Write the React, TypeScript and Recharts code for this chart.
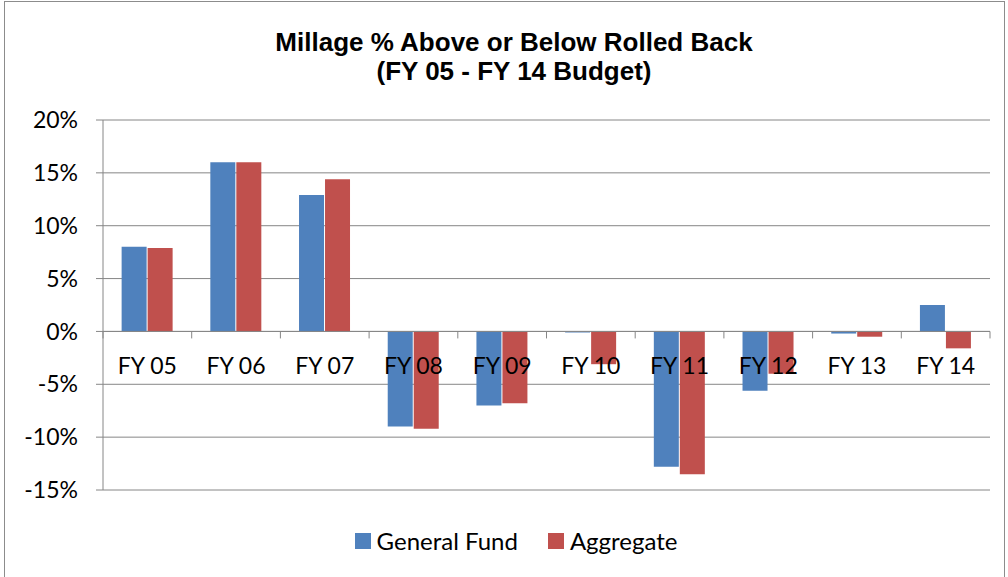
import React from 'react'
import { BarChart, Bar, XAxis, YAxis, CartesianGrid, ReferenceLine } from 'recharts'

const categories = ['FY 05', 'FY 06', 'FY 07', 'FY 08', 'FY 09', 'FY 10', 'FY 11', 'FY 12', 'FY 13', 'FY 14']
const generalFund = [8.0, 16.0, 12.9, -9.0, -7.0, -0.1, -12.8, -5.6, -0.2, 2.5]
const aggregate = [7.9, 16.0, 14.4, -9.2, -6.8, -3.1, -13.5, -4.0, -0.5, -1.6]
const yTicks = [-15, -10, -5, 0, 5, 10, 15, 20]

const series = [
  { key: 'general', name: 'General Fund', color: '#4F81BD' },
  { key: 'aggregate', name: 'Aggregate', color: '#C0504D' },
]

const data = categories.map((fy, i) => ({ fy, general: generalFund[i], aggregate: aggregate[i] }))

const W = 1008
const H = 577
const X_AXIS_H = 1
const M = { top: 120, right: 18, bottom: 87 - X_AXIS_H, left: 0 }
const Y_AXIS_W = 103
const PLOT_H = H - M.top - M.bottom - X_AXIS_H
const PLOT_W = W - M.left - M.right - Y_AXIS_W
const Y_MIN = -15
const Y_MAX = 20
const ZERO_Y = M.top + (PLOT_H * Y_MAX) / (Y_MAX - Y_MIN)
const BAND = PLOT_W / categories.length
const FONT = 'Lato, "Open Sans", sans-serif'
const AXIS_GRAY = '#868686'

function CategoryTick(props: any) {
  const { x, payload, index } = props
  const left = x - BAND / 2
  return (
    <g>
      <line x1={left} x2={left} y1={ZERO_Y} y2={ZERO_Y + 7} stroke={AXIS_GRAY} />
      {index === categories.length - 1 && (
        <line x1={x + BAND / 2} x2={x + BAND / 2} y1={ZERO_Y} y2={ZERO_Y + 7} stroke={AXIS_GRAY} />
      )}
      <text x={x} y={ZERO_Y + 35} dy="0.35em" textAnchor="middle" fontSize={23} fontFamily={FONT} fill="#000">
        {payload.value}
      </text>
    </g>
  )
}

export default function App() {
  return (
    <div style={{ position: 'absolute', left: 0, top: 0, width: W, height: H, overflow: 'hidden', background: '#fff' }}>
      <div
        style={{
          position: 'absolute', left: 4, top: 1, width: 1001, height: H + 10,
          border: '1px solid #8c8c8c', boxSizing: 'border-box',
        }}
      />
      <div
        style={{
          position: 'absolute', left: 0, top: 28, width: 1028, textAlign: 'center',
          fontFamily: '"Liberation Sans", Arial, sans-serif', fontWeight: 'bold', fontSize: 26, lineHeight: '29px',
          color: '#000',
        }}
      >
        Millage % Above or Below Rolled Back
        <br />
        (FY 05 - FY 14 Budget)
      </div>
      <div style={{ position: 'absolute', left: 0, top: 0 }}>
        <BarChart width={W} height={H} data={data} margin={M} barGap={1} barCategoryGap="21%">
          <CartesianGrid vertical={false} stroke={AXIS_GRAY} />
          <YAxis
            width={Y_AXIS_W}
            domain={[Y_MIN, Y_MAX]}
            ticks={yTicks}
            interval={0}
            tickFormatter={(v: number) => `${v}%`}
            tickSize={7}
            tickMargin={18}
            axisLine={{ stroke: AXIS_GRAY }}
            tickLine={{ stroke: AXIS_GRAY }}
            tick={{ fontSize: 23, fontFamily: FONT, fill: '#000' }}
          />
          <ReferenceLine y={0} stroke={AXIS_GRAY} />
          {series.map((s) => (
            <Bar key={s.key} dataKey={s.key} name={s.name} fill={s.color} isAnimationActive={false} />
          ))}
          <XAxis
            dataKey="fy"
            height={X_AXIS_H}
            axisLine={false}
            tickLine={false}
            interval={0}
            tick={<CategoryTick />}
          />
        </BarChart>
      </div>
      <div
        style={{
          position: 'absolute', left: 0, top: 526, width: 1062, display: 'flex', justifyContent: 'center',
          fontFamily: FONT, fontSize: 24, color: '#000',
        }}
      >
        {series.map((s) => (
          <div key={s.key} style={{ display: 'flex', alignItems: 'center', marginRight: 30 }}>
            <span style={{ width: 16, height: 16, background: s.color, display: 'inline-block', marginRight: 6 }} />
            <span>{s.name}</span>
          </div>
        ))}
      </div>
    </div>
  )
}
